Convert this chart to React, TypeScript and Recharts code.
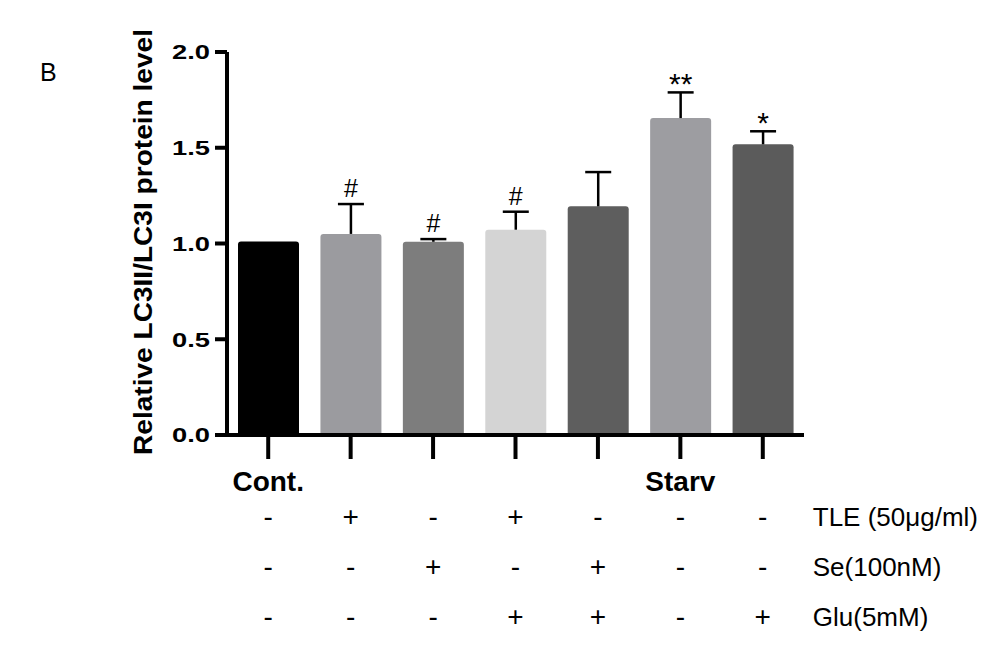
import React from "react";
import { BarChart, Bar, XAxis, YAxis, Cell } from "recharts";

const groups = ["G1", "G2", "G3", "G4", "G5", "G6", "G7"];
const groupLabels = ["Cont.", "", "", "", "", "Starv", ""];
const means = [1.01, 1.05, 1.009, 1.072, 1.194, 1.655, 1.518];
const sems = [0, 0.156, 0.014, 0.094, 0.179, 0.134, 0.068];
const marks = ["", "#", "#", "#", "", "**", "*"];
const tleSigns = ["-", "+", "-", "+", "-", "-", "-"];
const seSigns = ["-", "-", "+", "-", "+", "-", "-"];
const gluSigns = ["-", "-", "-", "+", "+", "-", "+"];
const rowLabels = ["TLE (50\u03bcg/ml)", "Se(100nM)", "Glu(5mM)"];
const colors = ["#000000", "#9b9b9f", "#7d7d7d", "#d4d4d4", "#5e5e5e", "#9d9da1", "#5b5b5b"];
const yTicks = [0, 0.5, 1, 1.5, 2];
const yLabel = "Relative LC3II/LC3I protein level";
const panelLabel = "B";

const data = groups.map((g, i) => ({
  group: g,
  mean: means[i],
  sem: sems[i],
  mark: marks[i],
}));

const FONT = "'Liberation Sans', Arial, sans-serif";

const BarShape = (props: any) => {
  const { x, y, width, height, payload, fill } = props;
  const r = 3;
  const errPx = payload.mean ? (payload.sem * height) / payload.mean : 0;
  const xc = x + width / 2;
  const top = y - errPx;
  const path = `M${x},${y + height} L${x},${y + r} Q${x},${y} ${x + r},${y} L${x + width - r},${y} Q${x + width},${y} ${x + width},${y + r} L${x + width},${y + height} Z`;
  const isHash = payload.mark.includes("#");
  const markDy = isHash ? -7 : 2;
  return (
    <g>
      <path d={path} fill={fill} />
      {payload.sem > 0 && (
        <g stroke="#000" strokeWidth={2.5}>
          <line x1={xc} y1={y} x2={xc} y2={top} />
          <line x1={xc - 13} y1={top} x2={xc + 13} y2={top} />
        </g>
      )}
      {payload.mark && (
        <text x={xc} y={top + markDy} textAnchor="middle" fontFamily={FONT} fontSize={isHash ? 25 : 30} fill="#000">
          {payload.mark}
        </text>
      )}
    </g>
  );
};

const XTick = (props: any) => {
  const { x, y, index } = props;
  const signs = [tleSigns[index], seSigns[index], gluSigns[index]];
  return (
    <g fontFamily={FONT} fill="#000">
      {groupLabels[index] && (
        <text x={x} y={y + 32} textAnchor="middle" fontSize={28} fontWeight="bold">
          {groupLabels[index]}
        </text>
      )}
      {signs.map((s, k) => (
        <text key={k} x={x} y={y + 67 + k * 50} textAnchor="middle" fontSize={28}>
          {s}
        </text>
      ))}
      {index === groups.length - 1 &&
        rowLabels.map((l, k) => (
          <text key={"l" + k} x={x + 50} y={y + 67 + k * 50} textAnchor="start" fontSize={26}>
            {l}
          </text>
        ))}
    </g>
  );
};

const YTick = (props: any) => {
  const { x, y, payload } = props;
  return (
    <text
      x={x}
      y={y}
      dy="0.355em"
      textAnchor="end"
      fontFamily={FONT}
      fontWeight="bold"
      fontSize={21}
      textLength={38}
      lengthAdjust="spacingAndGlyphs"
      fill="#000"
    >
      {Number(payload.value).toFixed(1)}
    </text>
  );
};

const YLabel = (props: any) => {
  const { viewBox } = props;
  const cx = viewBox.x + 143;
  const cy = 242;
  return (
    <text
      x={cx}
      y={cy}
      transform={`rotate(-90 ${cx} ${cy})`}
      textAnchor="middle"
      dominantBaseline="central"
      fontFamily={FONT}
      fontWeight="bold"
      fontSize={26}
      textLength={426}
      lengthAdjust="spacingAndGlyphs"
      fill="#000"
    >
      {yLabel}
    </text>
  );
};

export default function App() {
  return (
    <div style={{ position: "absolute", left: 0, top: 0, width: 994, height: 655, background: "#fff" }}>
      <svg style={{ position: "absolute", left: 0, top: 0 }} width={994} height={655}>
        <text x={40} y={81} fontFamily={FONT} fontSize={25} fill="#000">
          {panelLabel}
        </text>
      </svg>
      <div style={{ position: "absolute", left: 0, top: 0 }}>
        <BarChart width={994} height={655} data={data} margin={{ top: 52, right: 190, bottom: 190, left: 0 }}>
          <XAxis
            dataKey="group"
            height={30}
            axisLine={{ stroke: "#000", strokeWidth: 4 }}
            tickLine={{ stroke: "#000", strokeWidth: 4 }}
            tickSize={24}
            tickMargin={0}
            tick={<XTick />}
            interval={0}
          />
          <YAxis
            width={227}
            domain={[0, 2]}
            ticks={yTicks}
            axisLine={{ stroke: "#000", strokeWidth: 4 }}
            tickLine={{ stroke: "#000", strokeWidth: 4 }}
            tickSize={12}
            tickMargin={5}
            tick={<YTick />}
            label={<YLabel />}
          />
          <Bar dataKey="mean" barSize={61} isAnimationActive={false} shape={<BarShape />}>
            {data.map((d, i) => (
              <Cell key={d.group} fill={colors[i]} />
            ))}
          </Bar>
        </BarChart>
      </div>
    </div>
  );
}
